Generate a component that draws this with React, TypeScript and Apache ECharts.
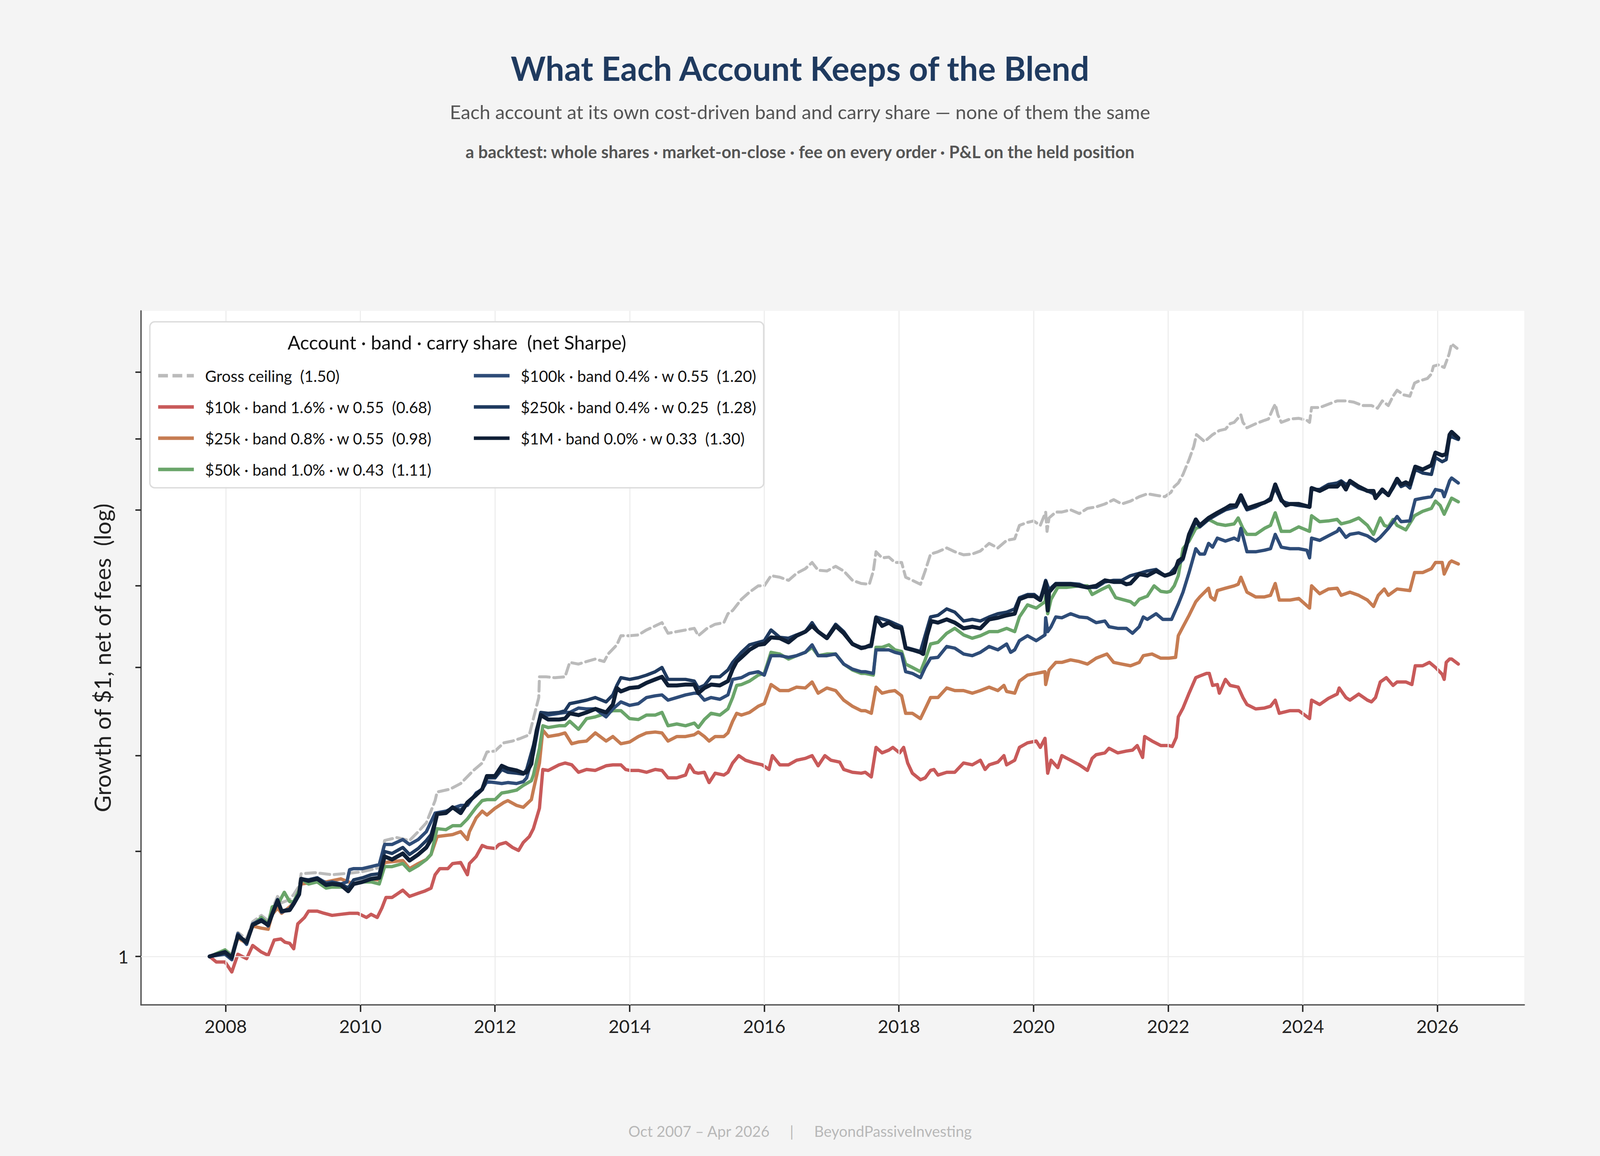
import React, { useEffect, useRef } from "react";
import * as echarts from "echarts";

const FONT = "Lato, 'Noto Sans', sans-serif";

const X_TICKS = [2008, 2010, 2012, 2014, 2016, 2018, 2020, 2022, 2024, 2026];
const Y_TICKS = [1, 1.1, 1.2, 1.3, 1.4, 1.5, 1.6, 1.7];
const Y_LABELS = [1];

const NAMES = [
  "Gross ceiling  (1.50)",
  "$10k · band 1.6% · w 0.55  (0.68)",
  "$25k · band 0.8% · w 0.55  (0.98)",
  "$50k · band 1.0% · w 0.43  (1.11)",
  "$100k · band 0.4% · w 0.55  (1.20)",
  "$250k · band 0.4% · w 0.25  (1.28)",
  "$1M · band 0.0% · w 0.33  (1.30)",
];
const COLORS = ["#bbbbbb", "#c85a5a", "#c67c52", "#6aa56a", "#2e4c78", "#1f3a5f", "#0f1f36"];

const GROSS = [[2007.76,1.000],[2007.99,1.006],[2008.09,1.002],[2008.18,1.022],[2008.31,1.016],[2008.40,1.032],[2008.53,1.038],[2008.63,1.033],[2008.69,1.044],[2008.77,1.056],[2008.83,1.050],[2008.95,1.053],[2009.01,1.058],[2009.09,1.066],[2009.12,1.078],[2009.33,1.079],[2009.58,1.077],[2009.90,1.079],[2010.03,1.080],[2010.16,1.082],[2010.28,1.084],[2010.36,1.111],[2010.54,1.114],[2010.73,1.111],[2010.86,1.120],[2010.98,1.129],[2011.11,1.152],[2011.14,1.161],[2011.33,1.164],[2011.49,1.170],[2011.68,1.184],[2011.81,1.192],[2011.88,1.204],[2012.00,1.205],[2012.13,1.214],[2012.26,1.216],[2012.38,1.219],[2012.51,1.223],[2012.57,1.241],[2012.65,1.265],[2012.66,1.289],[2012.76,1.289],[2012.89,1.288],[2013.04,1.289],[2013.11,1.306],[2013.24,1.304],[2013.36,1.307],[2013.49,1.310],[2013.62,1.307],[2013.68,1.316],[2013.81,1.327],[2013.87,1.338],[2014.00,1.338],[2014.13,1.339],[2014.25,1.345],[2014.38,1.350],[2014.48,1.354],[2014.57,1.341],[2014.70,1.343],[2014.83,1.345],[2014.96,1.347],[2015.02,1.338],[2015.15,1.347],[2015.27,1.352],[2015.40,1.354],[2015.46,1.365],[2015.53,1.369],[2015.66,1.383],[2015.78,1.392],[2015.91,1.400],[2016.00,1.400],[2016.10,1.413],[2016.23,1.411],[2016.36,1.407],[2016.48,1.416],[2016.61,1.422],[2016.71,1.430],[2016.80,1.420],[2016.93,1.419],[2017.06,1.425],[2017.18,1.419],[2017.31,1.407],[2017.44,1.403],[2017.56,1.402],[2017.62,1.419],[2017.66,1.444],[2017.75,1.436],[2017.85,1.437],[2017.94,1.430],[2018.04,1.430],[2018.10,1.411],[2018.20,1.407],[2018.32,1.402],[2018.39,1.419],[2018.47,1.441],[2018.58,1.444],[2018.71,1.449],[2018.83,1.444],[2018.96,1.440],[2019.09,1.441],[2019.21,1.445],[2019.34,1.455],[2019.47,1.449],[2019.60,1.459],[2019.72,1.461],[2019.79,1.479],[2019.91,1.483],[2020.00,1.485],[2020.10,1.479],[2020.18,1.497],[2020.20,1.471],[2020.23,1.489],[2020.33,1.497],[2020.42,1.497],[2020.55,1.500],[2020.68,1.495],[2020.80,1.502],[2020.93,1.504],[2021.06,1.508],[2021.19,1.514],[2021.31,1.508],[2021.44,1.512],[2021.57,1.518],[2021.69,1.522],[2021.82,1.520],[2021.95,1.518],[2022.04,1.524],[2022.09,1.532],[2022.15,1.537],[2022.22,1.549],[2022.31,1.570],[2022.38,1.589],[2022.42,1.606],[2022.54,1.596],[2022.66,1.606],[2022.76,1.612],[2022.85,1.614],[2022.92,1.622],[2022.98,1.624],[2023.08,1.635],[2023.11,1.624],[2023.17,1.616],[2023.30,1.622],[2023.43,1.627],[2023.49,1.629],[2023.55,1.643],[2023.59,1.651],[2023.63,1.635],[2023.68,1.624],[2023.81,1.629],[2023.94,1.630],[2024.06,1.627],[2024.10,1.624],[2024.13,1.646],[2024.25,1.646],[2024.38,1.651],[2024.51,1.656],[2024.64,1.656],[2024.76,1.654],[2024.89,1.649],[2025.02,1.649],[2025.11,1.645],[2025.18,1.656],[2025.27,1.649],[2025.34,1.663],[2025.40,1.672],[2025.50,1.665],[2025.59,1.663],[2025.66,1.683],[2025.72,1.686],[2025.85,1.690],[2025.91,1.697],[2025.94,1.709],[2026.01,1.711],[2026.10,1.707],[2026.17,1.727],[2026.21,1.744],[2026.29,1.737]];

const ACCT_10K = [[2007.76,1.000],[2007.86,0.995],[2007.99,0.995],[2008.09,0.986],[2008.18,1.002],[2008.31,0.998],[2008.40,1.010],[2008.53,1.004],[2008.63,1.001],[2008.72,1.015],[2008.82,1.016],[2008.88,1.013],[2008.95,1.012],[2009.01,1.007],[2009.04,1.019],[2009.07,1.030],[2009.17,1.036],[2009.23,1.042],[2009.36,1.042],[2009.46,1.040],[2009.58,1.038],[2009.71,1.039],[2009.84,1.040],[2009.96,1.040],[2010.09,1.036],[2010.16,1.039],[2010.25,1.036],[2010.32,1.045],[2010.38,1.055],[2010.47,1.055],[2010.63,1.062],[2010.73,1.056],[2010.86,1.059],[2010.95,1.061],[2011.05,1.064],[2011.11,1.077],[2011.18,1.083],[2011.30,1.083],[2011.37,1.088],[2011.49,1.089],[2011.59,1.077],[2011.62,1.088],[2011.72,1.095],[2011.81,1.106],[2011.88,1.104],[2012.00,1.103],[2012.06,1.107],[2012.16,1.109],[2012.26,1.104],[2012.35,1.101],[2012.42,1.109],[2012.51,1.115],[2012.57,1.123],[2012.66,1.144],[2012.71,1.185],[2012.79,1.184],[2012.95,1.190],[2013.04,1.192],[2013.14,1.190],[2013.24,1.182],[2013.36,1.185],[2013.49,1.184],[2013.65,1.189],[2013.75,1.190],[2013.87,1.190],[2013.94,1.185],[2014.00,1.184],[2014.13,1.184],[2014.25,1.182],[2014.38,1.185],[2014.48,1.184],[2014.57,1.176],[2014.70,1.176],[2014.83,1.179],[2014.89,1.190],[2014.96,1.182],[2015.02,1.181],[2015.11,1.182],[2015.18,1.171],[2015.27,1.181],[2015.40,1.179],[2015.46,1.182],[2015.53,1.192],[2015.62,1.200],[2015.72,1.195],[2015.85,1.192],[2015.97,1.190],[2016.07,1.185],[2016.12,1.200],[2016.23,1.190],[2016.36,1.190],[2016.48,1.195],[2016.61,1.197],[2016.71,1.200],[2016.80,1.189],[2016.90,1.200],[2016.99,1.195],[2017.12,1.193],[2017.18,1.185],[2017.31,1.182],[2017.44,1.181],[2017.50,1.182],[2017.59,1.177],[2017.66,1.209],[2017.75,1.203],[2017.85,1.206],[2017.91,1.209],[2018.01,1.203],[2018.07,1.209],[2018.13,1.192],[2018.20,1.181],[2018.32,1.174],[2018.39,1.176],[2018.47,1.184],[2018.52,1.185],[2018.58,1.179],[2018.71,1.182],[2018.83,1.182],[2018.96,1.192],[2019.09,1.190],[2019.21,1.195],[2019.28,1.185],[2019.34,1.190],[2019.47,1.193],[2019.56,1.200],[2019.60,1.190],[2019.72,1.195],[2019.79,1.209],[2019.91,1.214],[2020.04,1.216],[2020.10,1.209],[2020.17,1.219],[2020.21,1.181],[2020.26,1.195],[2020.36,1.187],[2020.42,1.200],[2020.55,1.195],[2020.68,1.190],[2020.74,1.187],[2020.80,1.184],[2020.87,1.197],[2020.93,1.201],[2021.06,1.203],[2021.12,1.208],[2021.25,1.203],[2021.38,1.205],[2021.47,1.206],[2021.54,1.211],[2021.62,1.198],[2021.65,1.221],[2021.76,1.216],[2021.89,1.211],[2022.01,1.211],[2022.06,1.210],[2022.12,1.220],[2022.15,1.243],[2022.22,1.253],[2022.31,1.270],[2022.41,1.288],[2022.47,1.290],[2022.57,1.293],[2022.61,1.293],[2022.66,1.279],[2022.73,1.280],[2022.76,1.270],[2022.85,1.286],[2022.92,1.279],[2023.04,1.277],[2023.11,1.265],[2023.17,1.257],[2023.30,1.252],[2023.43,1.253],[2023.52,1.255],[2023.59,1.262],[2023.65,1.247],[2023.81,1.250],[2023.94,1.250],[2024.10,1.241],[2024.13,1.262],[2024.25,1.257],[2024.38,1.264],[2024.51,1.269],[2024.54,1.276],[2024.64,1.265],[2024.70,1.262],[2024.83,1.269],[2024.96,1.262],[2025.02,1.260],[2025.08,1.265],[2025.15,1.283],[2025.24,1.288],[2025.34,1.279],[2025.40,1.283],[2025.53,1.283],[2025.62,1.280],[2025.67,1.302],[2025.78,1.302],[2025.88,1.306],[2025.97,1.300],[2026.07,1.292],[2026.10,1.286],[2026.13,1.306],[2026.18,1.310],[2026.21,1.310],[2026.31,1.304]];

const ACCT_25K = [[2007.76,1.000],[2007.99,1.005],[2008.09,1.000],[2008.18,1.017],[2008.31,1.012],[2008.40,1.028],[2008.53,1.026],[2008.63,1.025],[2008.69,1.039],[2008.77,1.045],[2008.83,1.040],[2008.95,1.046],[2009.01,1.050],[2009.09,1.062],[2009.12,1.068],[2009.23,1.069],[2009.36,1.071],[2009.49,1.070],[2009.71,1.073],[2009.90,1.068],[2010.03,1.070],[2010.16,1.073],[2010.28,1.072],[2010.36,1.089],[2010.63,1.091],[2010.73,1.083],[2010.86,1.088],[2010.98,1.092],[2011.05,1.097],[2011.14,1.115],[2011.37,1.117],[2011.49,1.120],[2011.59,1.112],[2011.62,1.120],[2011.72,1.134],[2011.81,1.141],[2011.88,1.137],[2012.00,1.144],[2012.13,1.150],[2012.19,1.152],[2012.32,1.147],[2012.42,1.145],[2012.54,1.153],[2012.57,1.163],[2012.66,1.192],[2012.71,1.228],[2012.79,1.221],[2012.95,1.223],[2013.04,1.225],[2013.14,1.213],[2013.24,1.215],[2013.36,1.216],[2013.49,1.225],[2013.65,1.216],[2013.75,1.221],[2013.87,1.213],[2014.00,1.215],[2014.13,1.221],[2014.25,1.225],[2014.38,1.226],[2014.48,1.225],[2014.57,1.216],[2014.70,1.221],[2014.83,1.221],[2014.96,1.223],[2015.02,1.226],[2015.11,1.221],[2015.18,1.216],[2015.27,1.221],[2015.40,1.221],[2015.46,1.225],[2015.53,1.238],[2015.59,1.247],[2015.66,1.245],[2015.78,1.248],[2015.91,1.255],[2016.00,1.258],[2016.10,1.280],[2016.23,1.273],[2016.36,1.273],[2016.48,1.277],[2016.61,1.276],[2016.71,1.283],[2016.80,1.270],[2016.93,1.276],[2017.06,1.273],[2017.18,1.262],[2017.31,1.255],[2017.44,1.250],[2017.50,1.250],[2017.59,1.247],[2017.66,1.277],[2017.75,1.270],[2017.85,1.272],[2017.94,1.273],[2018.04,1.267],[2018.10,1.247],[2018.20,1.247],[2018.32,1.241],[2018.39,1.252],[2018.47,1.265],[2018.58,1.265],[2018.71,1.276],[2018.83,1.273],[2018.96,1.273],[2019.09,1.270],[2019.21,1.273],[2019.34,1.277],[2019.47,1.273],[2019.56,1.279],[2019.60,1.272],[2019.72,1.270],[2019.79,1.284],[2019.91,1.291],[2020.04,1.293],[2020.17,1.295],[2020.18,1.280],[2020.23,1.297],[2020.33,1.306],[2020.42,1.306],[2020.55,1.309],[2020.68,1.307],[2020.80,1.304],[2020.93,1.311],[2021.09,1.316],[2021.19,1.306],[2021.31,1.304],[2021.44,1.302],[2021.57,1.306],[2021.63,1.314],[2021.76,1.316],[2021.89,1.311],[2022.01,1.311],[2022.11,1.312],[2022.15,1.338],[2022.22,1.349],[2022.31,1.363],[2022.41,1.380],[2022.47,1.386],[2022.60,1.397],[2022.63,1.386],[2022.69,1.382],[2022.73,1.394],[2022.85,1.397],[2022.98,1.400],[2023.04,1.402],[2023.08,1.411],[2023.17,1.392],[2023.30,1.386],[2023.43,1.386],[2023.52,1.388],[2023.59,1.403],[2023.65,1.382],[2023.81,1.382],[2023.94,1.384],[2024.10,1.372],[2024.13,1.400],[2024.25,1.390],[2024.38,1.396],[2024.51,1.397],[2024.57,1.388],[2024.70,1.392],[2024.83,1.388],[2024.96,1.382],[2025.05,1.374],[2025.12,1.388],[2025.21,1.396],[2025.27,1.388],[2025.40,1.396],[2025.59,1.394],[2025.66,1.417],[2025.78,1.417],[2025.91,1.422],[2025.97,1.430],[2026.07,1.430],[2026.10,1.415],[2026.18,1.430],[2026.21,1.432],[2026.31,1.428]];

const ACCT_50K = [[2007.76,1.000],[2007.99,1.006],[2008.09,1.000],[2008.18,1.018],[2008.31,1.013],[2008.40,1.029],[2008.53,1.036],[2008.63,1.030],[2008.69,1.046],[2008.77,1.048],[2008.87,1.060],[2008.95,1.051],[2009.01,1.051],[2009.09,1.062],[2009.12,1.073],[2009.23,1.068],[2009.36,1.070],[2009.49,1.064],[2009.58,1.065],[2009.71,1.065],[2009.82,1.065],[2009.90,1.068],[2010.03,1.070],[2010.16,1.070],[2010.28,1.068],[2010.36,1.085],[2010.47,1.085],[2010.63,1.088],[2010.73,1.081],[2010.86,1.086],[2010.98,1.092],[2011.05,1.097],[2011.14,1.123],[2011.27,1.122],[2011.37,1.126],[2011.49,1.126],[2011.59,1.133],[2011.72,1.145],[2011.81,1.152],[2011.88,1.153],[2012.00,1.153],[2012.10,1.160],[2012.19,1.161],[2012.32,1.163],[2012.42,1.168],[2012.54,1.173],[2012.57,1.179],[2012.66,1.208],[2012.71,1.233],[2012.79,1.231],[2012.95,1.233],[2013.04,1.233],[2013.11,1.238],[2013.24,1.229],[2013.36,1.241],[2013.49,1.243],[2013.65,1.247],[2013.75,1.250],[2013.87,1.250],[2014.00,1.241],[2014.13,1.240],[2014.25,1.245],[2014.38,1.245],[2014.48,1.248],[2014.57,1.233],[2014.70,1.235],[2014.83,1.233],[2014.96,1.236],[2015.02,1.231],[2015.11,1.240],[2015.21,1.247],[2015.34,1.245],[2015.46,1.252],[2015.53,1.265],[2015.59,1.279],[2015.66,1.280],[2015.78,1.284],[2015.91,1.291],[2016.00,1.293],[2016.10,1.318],[2016.23,1.316],[2016.36,1.310],[2016.48,1.314],[2016.61,1.318],[2016.71,1.324],[2016.80,1.314],[2016.93,1.316],[2017.06,1.316],[2017.18,1.304],[2017.31,1.297],[2017.44,1.293],[2017.50,1.293],[2017.62,1.291],[2017.66,1.324],[2017.75,1.324],[2017.85,1.327],[2017.94,1.321],[2018.04,1.319],[2018.10,1.304],[2018.20,1.300],[2018.32,1.295],[2018.39,1.309],[2018.47,1.328],[2018.58,1.330],[2018.71,1.341],[2018.83,1.347],[2018.96,1.339],[2019.09,1.335],[2019.21,1.338],[2019.34,1.343],[2019.47,1.343],[2019.60,1.347],[2019.72,1.343],[2019.79,1.361],[2019.91,1.376],[2020.04,1.372],[2020.17,1.380],[2020.18,1.387],[2020.21,1.365],[2020.26,1.383],[2020.36,1.398],[2020.49,1.398],[2020.68,1.400],[2020.80,1.400],[2020.87,1.389],[2021.00,1.395],[2021.12,1.400],[2021.22,1.385],[2021.31,1.383],[2021.44,1.380],[2021.50,1.376],[2021.57,1.383],[2021.69,1.387],[2021.79,1.400],[2021.89,1.393],[2021.98,1.392],[2022.03,1.393],[2022.09,1.400],[2022.15,1.413],[2022.22,1.448],[2022.31,1.458],[2022.41,1.475],[2022.47,1.477],[2022.60,1.487],[2022.73,1.481],[2022.85,1.479],[2022.98,1.481],[2023.04,1.489],[2023.11,1.475],[2023.17,1.467],[2023.30,1.467],[2023.43,1.475],[2023.52,1.479],[2023.59,1.496],[2023.68,1.471],[2023.81,1.471],[2023.94,1.477],[2024.10,1.471],[2024.13,1.492],[2024.25,1.484],[2024.38,1.485],[2024.51,1.487],[2024.57,1.481],[2024.70,1.484],[2024.83,1.489],[2024.96,1.479],[2025.05,1.467],[2025.15,1.489],[2025.21,1.479],[2025.27,1.477],[2025.34,1.487],[2025.40,1.479],[2025.53,1.473],[2025.66,1.492],[2025.78,1.498],[2025.91,1.502],[2025.97,1.512],[2026.04,1.506],[2026.10,1.494],[2026.18,1.510],[2026.21,1.516],[2026.31,1.511]];

const ACCT_100K = [[2007.76,1.000],[2007.99,1.002],[2008.09,0.997],[2008.18,1.021],[2008.31,1.011],[2008.40,1.030],[2008.53,1.034],[2008.63,1.028],[2008.69,1.040],[2008.77,1.053],[2008.83,1.041],[2008.95,1.044],[2009.01,1.050],[2009.09,1.059],[2009.12,1.072],[2009.23,1.072],[2009.36,1.074],[2009.49,1.069],[2009.58,1.070],[2009.71,1.068],[2009.80,1.070],[2009.84,1.082],[2009.90,1.083],[2010.03,1.083],[2010.16,1.085],[2010.28,1.087],[2010.36,1.107],[2010.47,1.107],[2010.63,1.112],[2010.73,1.107],[2010.86,1.112],[2010.98,1.120],[2011.11,1.139],[2011.27,1.141],[2011.37,1.144],[2011.49,1.147],[2011.59,1.147],[2011.72,1.160],[2011.81,1.164],[2011.88,1.172],[2012.00,1.171],[2012.10,1.170],[2012.19,1.171],[2012.32,1.170],[2012.42,1.172],[2012.47,1.176],[2012.57,1.202],[2012.68,1.247],[2012.79,1.245],[2012.95,1.247],[2013.04,1.248],[2013.11,1.248],[2013.24,1.253],[2013.36,1.252],[2013.49,1.252],[2013.65,1.243],[2013.75,1.252],[2013.87,1.260],[2014.00,1.256],[2014.13,1.258],[2014.25,1.265],[2014.38,1.267],[2014.48,1.268],[2014.57,1.262],[2014.70,1.265],[2014.83,1.268],[2014.96,1.270],[2015.02,1.270],[2015.11,1.262],[2015.21,1.265],[2015.34,1.263],[2015.46,1.268],[2015.53,1.286],[2015.66,1.288],[2015.78,1.293],[2015.91,1.295],[2016.00,1.291],[2016.10,1.314],[2016.23,1.314],[2016.36,1.312],[2016.48,1.314],[2016.61,1.318],[2016.71,1.327],[2016.80,1.314],[2016.93,1.314],[2017.06,1.316],[2017.18,1.304],[2017.31,1.298],[2017.44,1.295],[2017.50,1.295],[2017.62,1.293],[2017.66,1.321],[2017.85,1.321],[2017.94,1.318],[2018.04,1.316],[2018.10,1.295],[2018.20,1.293],[2018.32,1.288],[2018.39,1.300],[2018.47,1.311],[2018.58,1.312],[2018.71,1.325],[2018.83,1.323],[2018.96,1.316],[2019.09,1.314],[2019.21,1.318],[2019.34,1.325],[2019.47,1.321],[2019.60,1.328],[2019.66,1.318],[2019.72,1.321],[2019.79,1.332],[2019.91,1.338],[2020.04,1.332],[2020.17,1.339],[2020.18,1.360],[2020.21,1.343],[2020.26,1.349],[2020.33,1.361],[2020.42,1.360],[2020.55,1.365],[2020.68,1.361],[2020.80,1.360],[2020.93,1.354],[2021.06,1.356],[2021.12,1.349],[2021.25,1.347],[2021.38,1.347],[2021.47,1.341],[2021.57,1.349],[2021.63,1.361],[2021.69,1.358],[2021.82,1.365],[2021.92,1.358],[2022.05,1.358],[2022.15,1.377],[2022.22,1.392],[2022.31,1.417],[2022.41,1.448],[2022.47,1.441],[2022.54,1.441],[2022.60,1.455],[2022.66,1.450],[2022.73,1.462],[2022.85,1.458],[2022.98,1.462],[2023.04,1.459],[2023.08,1.475],[2023.17,1.444],[2023.30,1.444],[2023.43,1.446],[2023.52,1.448],[2023.59,1.467],[2023.68,1.450],[2023.81,1.448],[2023.94,1.448],[2024.06,1.446],[2024.10,1.436],[2024.13,1.462],[2024.25,1.459],[2024.38,1.465],[2024.51,1.471],[2024.54,1.475],[2024.64,1.463],[2024.70,1.467],[2024.83,1.469],[2024.96,1.465],[2025.08,1.458],[2025.15,1.463],[2025.27,1.475],[2025.40,1.491],[2025.46,1.484],[2025.59,1.485],[2025.67,1.514],[2025.78,1.516],[2025.91,1.518],[2025.97,1.528],[2026.07,1.526],[2026.10,1.518],[2026.18,1.540],[2026.21,1.544],[2026.31,1.537]];

const ACCT_250K = [[2007.76,1.000],[2007.99,1.003],[2008.09,0.998],[2008.18,1.020],[2008.31,1.012],[2008.40,1.029],[2008.53,1.034],[2008.63,1.029],[2008.69,1.040],[2008.77,1.053],[2008.83,1.042],[2008.95,1.044],[2009.01,1.050],[2009.09,1.059],[2009.12,1.073],[2009.23,1.072],[2009.36,1.074],[2009.49,1.068],[2009.58,1.069],[2009.71,1.068],[2009.82,1.064],[2009.90,1.072],[2010.03,1.074],[2010.16,1.077],[2010.28,1.078],[2010.36,1.100],[2010.47,1.098],[2010.63,1.104],[2010.73,1.097],[2010.86,1.103],[2010.98,1.111],[2011.05,1.117],[2011.14,1.138],[2011.27,1.140],[2011.37,1.145],[2011.49,1.142],[2011.59,1.149],[2011.72,1.159],[2011.81,1.164],[2011.88,1.176],[2012.00,1.176],[2012.10,1.185],[2012.19,1.182],[2012.32,1.181],[2012.42,1.180],[2012.47,1.185],[2012.57,1.211],[2012.68,1.248],[2012.79,1.247],[2012.95,1.248],[2013.04,1.250],[2013.11,1.258],[2013.24,1.260],[2013.36,1.262],[2013.49,1.265],[2013.65,1.260],[2013.75,1.268],[2013.81,1.279],[2013.87,1.288],[2014.00,1.286],[2014.13,1.288],[2014.25,1.291],[2014.38,1.295],[2014.48,1.300],[2014.57,1.286],[2014.70,1.286],[2014.83,1.286],[2014.96,1.284],[2015.02,1.276],[2015.11,1.279],[2015.21,1.289],[2015.34,1.289],[2015.46,1.297],[2015.53,1.306],[2015.66,1.318],[2015.78,1.327],[2015.91,1.330],[2016.00,1.332],[2016.10,1.345],[2016.23,1.336],[2016.36,1.335],[2016.48,1.339],[2016.61,1.343],[2016.71,1.354],[2016.80,1.343],[2016.93,1.336],[2017.06,1.352],[2017.18,1.343],[2017.31,1.328],[2017.44,1.324],[2017.59,1.325],[2017.66,1.361],[2017.85,1.356],[2018.04,1.349],[2018.10,1.324],[2018.32,1.319],[2018.47,1.361],[2018.58,1.363],[2018.71,1.371],[2018.83,1.367],[2018.96,1.356],[2019.09,1.358],[2019.21,1.356],[2019.34,1.361],[2019.47,1.365],[2019.60,1.367],[2019.72,1.371],[2019.79,1.385],[2019.91,1.389],[2020.01,1.389],[2020.10,1.383],[2020.18,1.407],[2020.23,1.395],[2020.33,1.403],[2020.42,1.403],[2020.55,1.403],[2020.68,1.402],[2020.80,1.398],[2020.93,1.398],[2021.06,1.405],[2021.19,1.407],[2021.31,1.407],[2021.44,1.413],[2021.57,1.416],[2021.69,1.419],[2021.82,1.421],[2021.95,1.413],[2022.03,1.416],[2022.15,1.428],[2022.22,1.434],[2022.31,1.463],[2022.41,1.484],[2022.47,1.477],[2022.60,1.487],[2022.73,1.494],[2022.85,1.500],[2023.01,1.504],[2023.08,1.516],[2023.17,1.500],[2023.30,1.504],[2023.43,1.510],[2023.52,1.516],[2023.59,1.530],[2023.68,1.512],[2023.81,1.508],[2023.94,1.506],[2024.10,1.504],[2024.13,1.528],[2024.25,1.528],[2024.38,1.535],[2024.51,1.537],[2024.57,1.540],[2024.64,1.535],[2024.70,1.538],[2024.83,1.530],[2024.96,1.526],[2025.05,1.522],[2025.08,1.516],[2025.18,1.526],[2025.27,1.520],[2025.34,1.530],[2025.40,1.540],[2025.46,1.532],[2025.53,1.535],[2025.59,1.530],[2025.67,1.556],[2025.78,1.551],[2025.91,1.549],[2025.97,1.573],[2026.07,1.567],[2026.13,1.570],[2026.18,1.601],[2026.21,1.603],[2026.31,1.599]];

const ACCT_1M = [[2007.76,1.000],[2007.99,1.004],[2008.09,0.999],[2008.18,1.019],[2008.31,1.013],[2008.40,1.029],[2008.53,1.033],[2008.63,1.029],[2008.69,1.039],[2008.77,1.052],[2008.83,1.042],[2008.95,1.043],[2009.01,1.049],[2009.09,1.058],[2009.12,1.073],[2009.23,1.071],[2009.36,1.073],[2009.49,1.067],[2009.58,1.068],[2009.71,1.067],[2009.82,1.061],[2009.90,1.068],[2010.03,1.070],[2010.16,1.073],[2010.28,1.074],[2010.36,1.095],[2010.47,1.092],[2010.63,1.098],[2010.73,1.091],[2010.86,1.097],[2010.98,1.104],[2011.05,1.112],[2011.14,1.138],[2011.27,1.139],[2011.37,1.145],[2011.49,1.139],[2011.59,1.150],[2011.72,1.158],[2011.81,1.164],[2011.88,1.178],[2012.00,1.178],[2012.10,1.189],[2012.19,1.186],[2012.32,1.184],[2012.42,1.181],[2012.47,1.182],[2012.54,1.191],[2012.57,1.207],[2012.62,1.228],[2012.68,1.245],[2012.79,1.240],[2012.95,1.240],[2013.04,1.241],[2013.11,1.247],[2013.24,1.245],[2013.36,1.248],[2013.49,1.252],[2013.65,1.248],[2013.75,1.257],[2013.81,1.276],[2013.87,1.272],[2014.00,1.276],[2014.13,1.277],[2014.25,1.282],[2014.38,1.286],[2014.48,1.289],[2014.57,1.279],[2014.70,1.279],[2014.83,1.280],[2014.96,1.280],[2015.02,1.270],[2015.11,1.276],[2015.21,1.280],[2015.34,1.279],[2015.46,1.284],[2015.53,1.298],[2015.59,1.307],[2015.66,1.312],[2015.78,1.321],[2015.91,1.327],[2016.00,1.328],[2016.10,1.336],[2016.23,1.335],[2016.36,1.330],[2016.48,1.338],[2016.61,1.343],[2016.71,1.350],[2016.80,1.343],[2016.93,1.335],[2017.06,1.350],[2017.18,1.341],[2017.31,1.328],[2017.44,1.323],[2017.50,1.324],[2017.59,1.327],[2017.66,1.360],[2017.75,1.350],[2017.85,1.354],[2017.94,1.349],[2018.04,1.347],[2018.10,1.323],[2018.20,1.321],[2018.32,1.318],[2018.36,1.316],[2018.42,1.339],[2018.48,1.356],[2018.58,1.354],[2018.71,1.358],[2018.83,1.354],[2018.96,1.347],[2019.09,1.349],[2019.21,1.347],[2019.34,1.358],[2019.47,1.360],[2019.60,1.363],[2019.72,1.365],[2019.79,1.383],[2019.91,1.387],[2020.01,1.387],[2020.10,1.382],[2020.17,1.400],[2020.18,1.405],[2020.21,1.369],[2020.23,1.392],[2020.33,1.402],[2020.42,1.402],[2020.55,1.402],[2020.68,1.400],[2020.80,1.398],[2020.93,1.400],[2021.06,1.407],[2021.19,1.405],[2021.31,1.405],[2021.38,1.402],[2021.44,1.403],[2021.57,1.415],[2021.69,1.413],[2021.82,1.419],[2021.95,1.413],[2022.03,1.415],[2022.09,1.417],[2022.15,1.432],[2022.22,1.436],[2022.31,1.467],[2022.41,1.487],[2022.47,1.479],[2022.60,1.489],[2022.73,1.496],[2022.85,1.502],[2022.92,1.506],[2023.01,1.506],[2023.08,1.520],[2023.17,1.502],[2023.30,1.506],[2023.43,1.510],[2023.52,1.514],[2023.59,1.535],[2023.68,1.514],[2023.75,1.506],[2023.81,1.508],[2023.94,1.508],[2024.10,1.504],[2024.13,1.530],[2024.25,1.526],[2024.38,1.532],[2024.51,1.532],[2024.57,1.538],[2024.64,1.528],[2024.70,1.540],[2024.83,1.532],[2024.96,1.526],[2025.05,1.526],[2025.08,1.516],[2025.18,1.528],[2025.27,1.520],[2025.34,1.532],[2025.40,1.543],[2025.46,1.535],[2025.53,1.538],[2025.59,1.535],[2025.67,1.560],[2025.78,1.556],[2025.91,1.562],[2025.97,1.580],[2026.07,1.576],[2026.13,1.578],[2026.18,1.606],[2026.21,1.610],[2026.31,1.601]];

const SERIES_DATA = [GROSS, ACCT_10K, ACCT_25K, ACCT_50K, ACCT_100K, ACCT_250K, ACCT_1M];
const WIDTHS = [8.5, 9.5, 9.5, 9.5, 9.5, 9.5, 11.5];

function buildOption(W: number, H: number) {
  const sx = W / 5200;
  const sy = H / 2960;
  const fs = Math.min(sx, sy);
  const ft = Math.min(sx * 1.06, sy);
  const lw = Math.min((sx + sy) / 2, 1);
  const X = (v: number) => v * sx;
  const Y = (v: number) => v * sy;
  const F = (v: number) => Math.round(v * fs * 10) / 10;
  const FT = (v: number) => Math.round(v * ft * 10) / 10;
  const FY = (v: number) => Math.round(v * sy * 10) / 10;

  const lineSeries: any[] = SERIES_DATA.map((d, i) => ({
    type: "line",
    name: NAMES[i],
    data: d,
    symbol: "none",
    showSymbol: false,
    silent: true,
    z: 3 + i,
    itemStyle: { color: COLORS[i] },
    lineStyle: {
      color: COLORS[i],
      width: WIDTHS[i] * lw,
      type: i === 0 ? [28 * lw, 13 * lw] : "solid",
      cap: "round",
      join: "round",
    },
  }));
  const gridSeries = {
    type: "line",
    name: "__grid",
    data: [GROSS[0]],
    symbol: "none",
    silent: true,
    z: 1,
    lineStyle: { opacity: 0 },
    markLine: {
      silent: true,
      symbol: ["none", "none"],
      label: { show: false },
      animation: false,
      lineStyle: { color: "#ececec", width: 3 * lw, type: "solid" },
      data: [...X_TICKS.map((v) => ({ xAxis: v })), ...Y_LABELS.map((v) => ({ yAxis: v }))],
    },
  };
  const legendLH = F(56);
  const legendText = {
    fontFamily: FONT,
    fontSize: F(51),
    color: "#111111",
    lineHeight: legendLH,
    padding: [0, 0, 0, X(30)],
  };
  const legendBase = {
    orient: "vertical",
    top: Y(957) - legendLH / 2,
    itemWidth: X(116),
    itemHeight: Y(14),
    itemGap: Y(80) - legendLH,
    selectedMode: false,
    z: 10,
    textStyle: legendText,
    itemStyle: { opacity: 0 },
    lineStyle: { width: 10 * lw, cap: "butt" },
  };
  return {
    animation: false,
    backgroundColor: "#f4f4f4",
    textStyle: { fontFamily: FONT },
    grid: {
      left: X(458),
      right: X(246),
      top: Y(796),
      bottom: Y(387),
      show: true,
      backgroundColor: "#ffffff",
      borderWidth: 0,
    },
    xAxis: {
      type: "value",
      min: 2006.74,
      max: 2027.29,
      axisLine: { show: true, lineStyle: { color: "#555555", width: 4 * lw } },
      axisTick: { show: true, length: Y(18), lineStyle: { color: "#222222", width: 4 * lw }, customValues: X_TICKS },
      axisLabel: {
        customValues: X_TICKS,
        formatter: (v: number) => String(Math.round(v)),
        fontSize: FT(56),
        color: "#222222",
        margin: Y(30),
        fontFamily: FONT,
      },
      splitLine: { show: false },
    },
    yAxis: {
      type: "log",
      logBase: 10,
      min: 0.957,
      max: 1.797,
      name: "Growth of $1, net of fees  (log)",
      nameLocation: "middle",
      nameRotate: 90,
      nameGap: X(76),
      nameTextStyle: { fontSize: FY(59), color: "#222222", fontFamily: FONT },
      axisLine: { show: true, lineStyle: { color: "#555555", width: 4 * lw } },
      axisTick: { show: true, length: X(18), lineStyle: { color: "#222222", width: 4 * lw }, customValues: Y_TICKS },
      axisLabel: {
        customValues: Y_LABELS,
        formatter: (v: number) => String(Math.round(v * 100) / 100),
        fontSize: FT(56),
        color: "#222222",
        margin: X(40),
        fontFamily: FONT,
      },
      splitLine: { show: false },
    },
    legend: [
      { ...legendBase, data: NAMES.slice(0, 4), left: X(502) },
      { ...legendBase, data: NAMES.slice(4), left: X(1528) },
    ],
    graphic: [
      {
        type: "rect",
        z: 6,
        silent: true,
        shape: { x: X(487), y: Y(824), width: X(1995), height: Y(425), r: 14 * lw },
        style: { fill: "#ffffff", stroke: "#dcdcdc", lineWidth: 4 * lw },
      },
      {
        type: "text",
        z: 11,
        x: X(1485),
        y: Y(876),
        silent: true,
        style: {
          text: "Account · band · carry share  (net Sharpe)",
          font: `${FT(58)}px ${FONT}`,
          fill: "#111111",
          textAlign: "center",
          textVerticalAlign: "middle",
        },
      },
      {
        type: "text",
        x: X(2600),
        y: Y(174),
        silent: true,
        style: {
          text: "What Each Account Keeps of the Blend",
          font: `bold ${FT(102)}px ${FONT}`,
          fill: "#1f3a5f",
          textAlign: "center",
          textVerticalAlign: "middle",
        },
      },
      {
        type: "text",
        x: X(2600),
        y: Y(286),
        silent: true,
        style: {
          text: "Each account at its own cost-driven band and carry share — none of them the same",
          font: `${FT(59)}px ${FONT}`,
          fill: "#555555",
          textAlign: "center",
          textVerticalAlign: "middle",
        },
      },
      {
        type: "text",
        x: X(2600),
        y: Y(388),
        silent: true,
        style: {
          text: "a backtest: whole shares · market-on-close · fee on every order · P&L on the held position",
          font: `bold ${FT(52)}px ${FONT}`,
          fill: "#555555",
          textAlign: "center",
          textVerticalAlign: "middle",
        },
      },
      {
        type: "text",
        x: X(2501),
        y: Y(2896),
        silent: true,
        style: {
          text: "Oct 2007 – Apr 2026",
          font: `${FT(46)}px ${FONT}`,
          fill: "#b8b8b8",
          textAlign: "right",
          textVerticalAlign: "middle",
        },
      },
      {
        type: "text",
        x: X(2573),
        y: Y(2896),
        silent: true,
        style: {
          text: "|",
          font: `${FT(46)}px ${FONT}`,
          fill: "#b8b8b8",
          textAlign: "center",
          textVerticalAlign: "middle",
        },
      },
      {
        type: "text",
        x: X(2646),
        y: Y(2896),
        silent: true,
        style: {
          text: "BeyondPassiveInvesting",
          font: `${FT(46)}px ${FONT}`,
          fill: "#b8b8b8",
          textAlign: "left",
          textVerticalAlign: "middle",
        },
      },
    ],
    series: [gridSeries, ...lineSeries],
  };
}

export default function App() {
  const ref = useRef<HTMLDivElement>(null);
  useEffect(() => {
    const el = ref.current;
    if (!el) return;
    const W = el.clientWidth || 5200;
    const H = el.clientHeight || 2960;
    const chart = echarts.init(el, undefined, { renderer: "svg", width: W, height: H });
    chart.setOption(buildOption(W, H));
    return () => chart.dispose();
  }, []);
  return (
    <div
      ref={ref}
      style={{ position: "fixed", left: 0, top: 0, width: "100vw", height: "100vh" }}
    />
  );
}
